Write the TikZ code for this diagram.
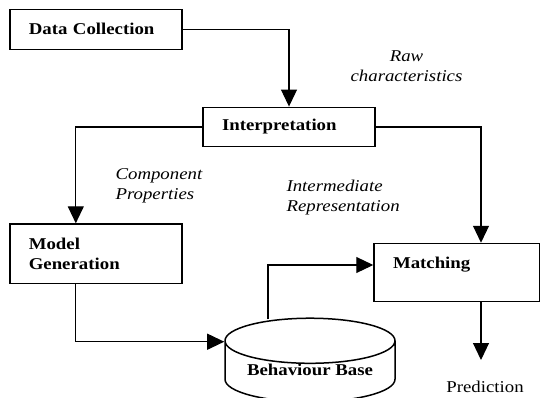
\documentclass[tikz,border=0pt]{standalone}
\usepackage{fontspec}
\setmainfont{Liberation Serif}[FakeStretch=1.14]
\usetikzlibrary{arrows.meta,shapes.geometric}

\begin{document}
\begin{tikzpicture}[x=1pt,y=-1pt,->,>={Triangle[length=17pt,width=16pt]},line width=1.1pt,
    font=\fontsize{16.5}{20}\selectfont,
    block/.style={draw=black,line width=1.5pt,align=left,inner xsep=19pt,inner ysep=0pt,text width=#1,font=\fontsize{16.5}{20}\selectfont\bfseries},
    note/.style={inner sep=0pt,font=\fontsize{16.5}{20}\selectfont\itshape}]
                \useasboundingbox (0,0) rectangle (540,397);
                \node[block=134pt,minimum height=40pt](dc)at(95.8, 29.3){Data Collection};
                \node[block=134pt,minimum height=39.4pt](interp)at(289, 127){Interpretation};
                \node[block=134pt,minimum height=59.3pt](mg)at(95.8, 253.7){Model\\Generation};
                \node[block=128pt,minimum height=58.2pt,text depth=19pt](match)at(457, 272.6){Matching};
                \node[cylinder,shape border rotate=90,aspect=0.34,draw=black,line width=1.5pt,inner ysep=0pt,text depth=10pt,
                      minimum width=170pt,minimum height=76pt,anchor=shape center,font=\fontsize{16.5}{20}\selectfont\bfseries](bb)at(310, 360){Behaviour Base};
                \coordinate(out)at(481, 360);
                \node[inner sep=0pt](pred)at(485, 386.7){Prediction};
                \node[note,align=center](raw)at(406.5, 66){Raw\\characteristics};
                \node[note,align=left,anchor=west](comp)at(115, 186){Component\\Properties};
                \node[note,align=left,anchor=west](inter)at(286, 198){Intermediate\\Representation};
                \draw (dc.east) -| (interp.north);
                \draw (interp.west) -| ([xshift=-20pt]mg.north);
                \draw (interp.east) -| ([xshift=24pt]match.north);
                \draw ([xshift=-20pt]mg.south) |- (bb.west |- 0,341.7);
                \draw ([xshift=-42pt,yshift=-2pt]bb.north) |- ([yshift=7.6pt]match.west);
                \draw ([xshift=24pt]match.south) -- (out);
            \end{tikzpicture}
\end{document}
